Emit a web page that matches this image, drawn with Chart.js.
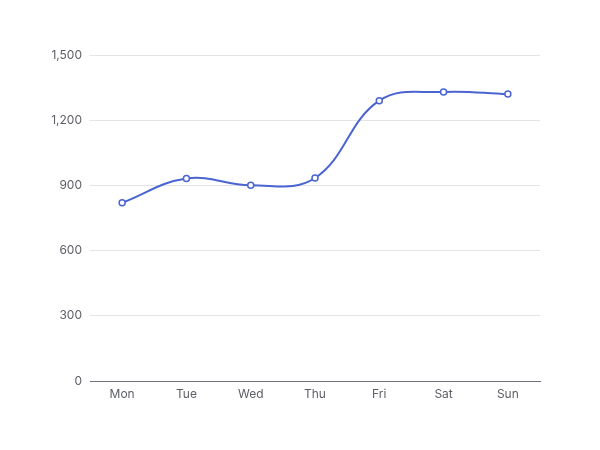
<!DOCTYPE html>
<html>
<head>
<meta charset="utf-8">
<script src="https://cdn.jsdelivr.net/npm/chart.js@4"></script>
<style>
  html, body { margin: 0; padding: 0; background: #fff; }
  #wrap { width: 600px; height: 450px; }
</style>
</head>
<body>
<div id="wrap"><canvas id="grafico"></canvas></div>
<script>
  // Datos del gráfico
  const dias = ['Mon', 'Tue', 'Wed', 'Thu', 'Fri', 'Sat', 'Sun'];
  const valores = [820, 932, 901, 934, 1290, 1330, 1320];
  const ticksY = [0, 300, 600, 900, 1200, 1500];

  const gris = '#5c5e66';

  let ctx = document.getElementById('grafico').getContext('2d');
  let grafico = new Chart(ctx, {
      type: 'line',
      data: {
          labels: dias,
          datasets: [{
              data: valores,
              borderColor: '#4a64d2',
              borderWidth: 2,
              backgroundColor: '#ffffff',
              pointBackgroundColor: '#ffffff',
              pointBorderColor: '#4a64d2',
              pointBorderWidth: 1.5,
              pointRadius: 3,
              tension: 0.4,
              fill: false
          }]
      },
      options: {
          responsive: true,
          maintainAspectRatio: false,
          animation: false,
          layout: { padding: { top: 55, right: 60, bottom: 0, left: 0 } },
          plugins: { legend: { display: false }, tooltip: { enabled: false } },
          scales: {
              x: {
                  offset: true,
                  grid: { display: false, drawTicks: false },
                  border: { display: true, color: '#6e7079', width: 1 },
                  ticks: { color: gris, font: { family: 'Inter', size: 12 }, padding: 6 },
                  afterFit: (s) => { s.height = 69; }
              },
              y: {
                  min: 0,
                  max: 1500,
                  afterBuildTicks: (s) => { s.ticks = ticksY.map(v => ({ value: v })); },
                  grid: { color: '#e2e4e8', drawTicks: false },
                  border: { display: false },
                  ticks: {
                      color: gris,
                      font: { family: 'Inter', size: 12 },
                      padding: 8,
                      callback: (v) => v.toLocaleString('en-US')
                  },
                  afterFit: (s) => { s.width = 90; }
              }
          }
      }
  });
</script>
</body>
</html>
